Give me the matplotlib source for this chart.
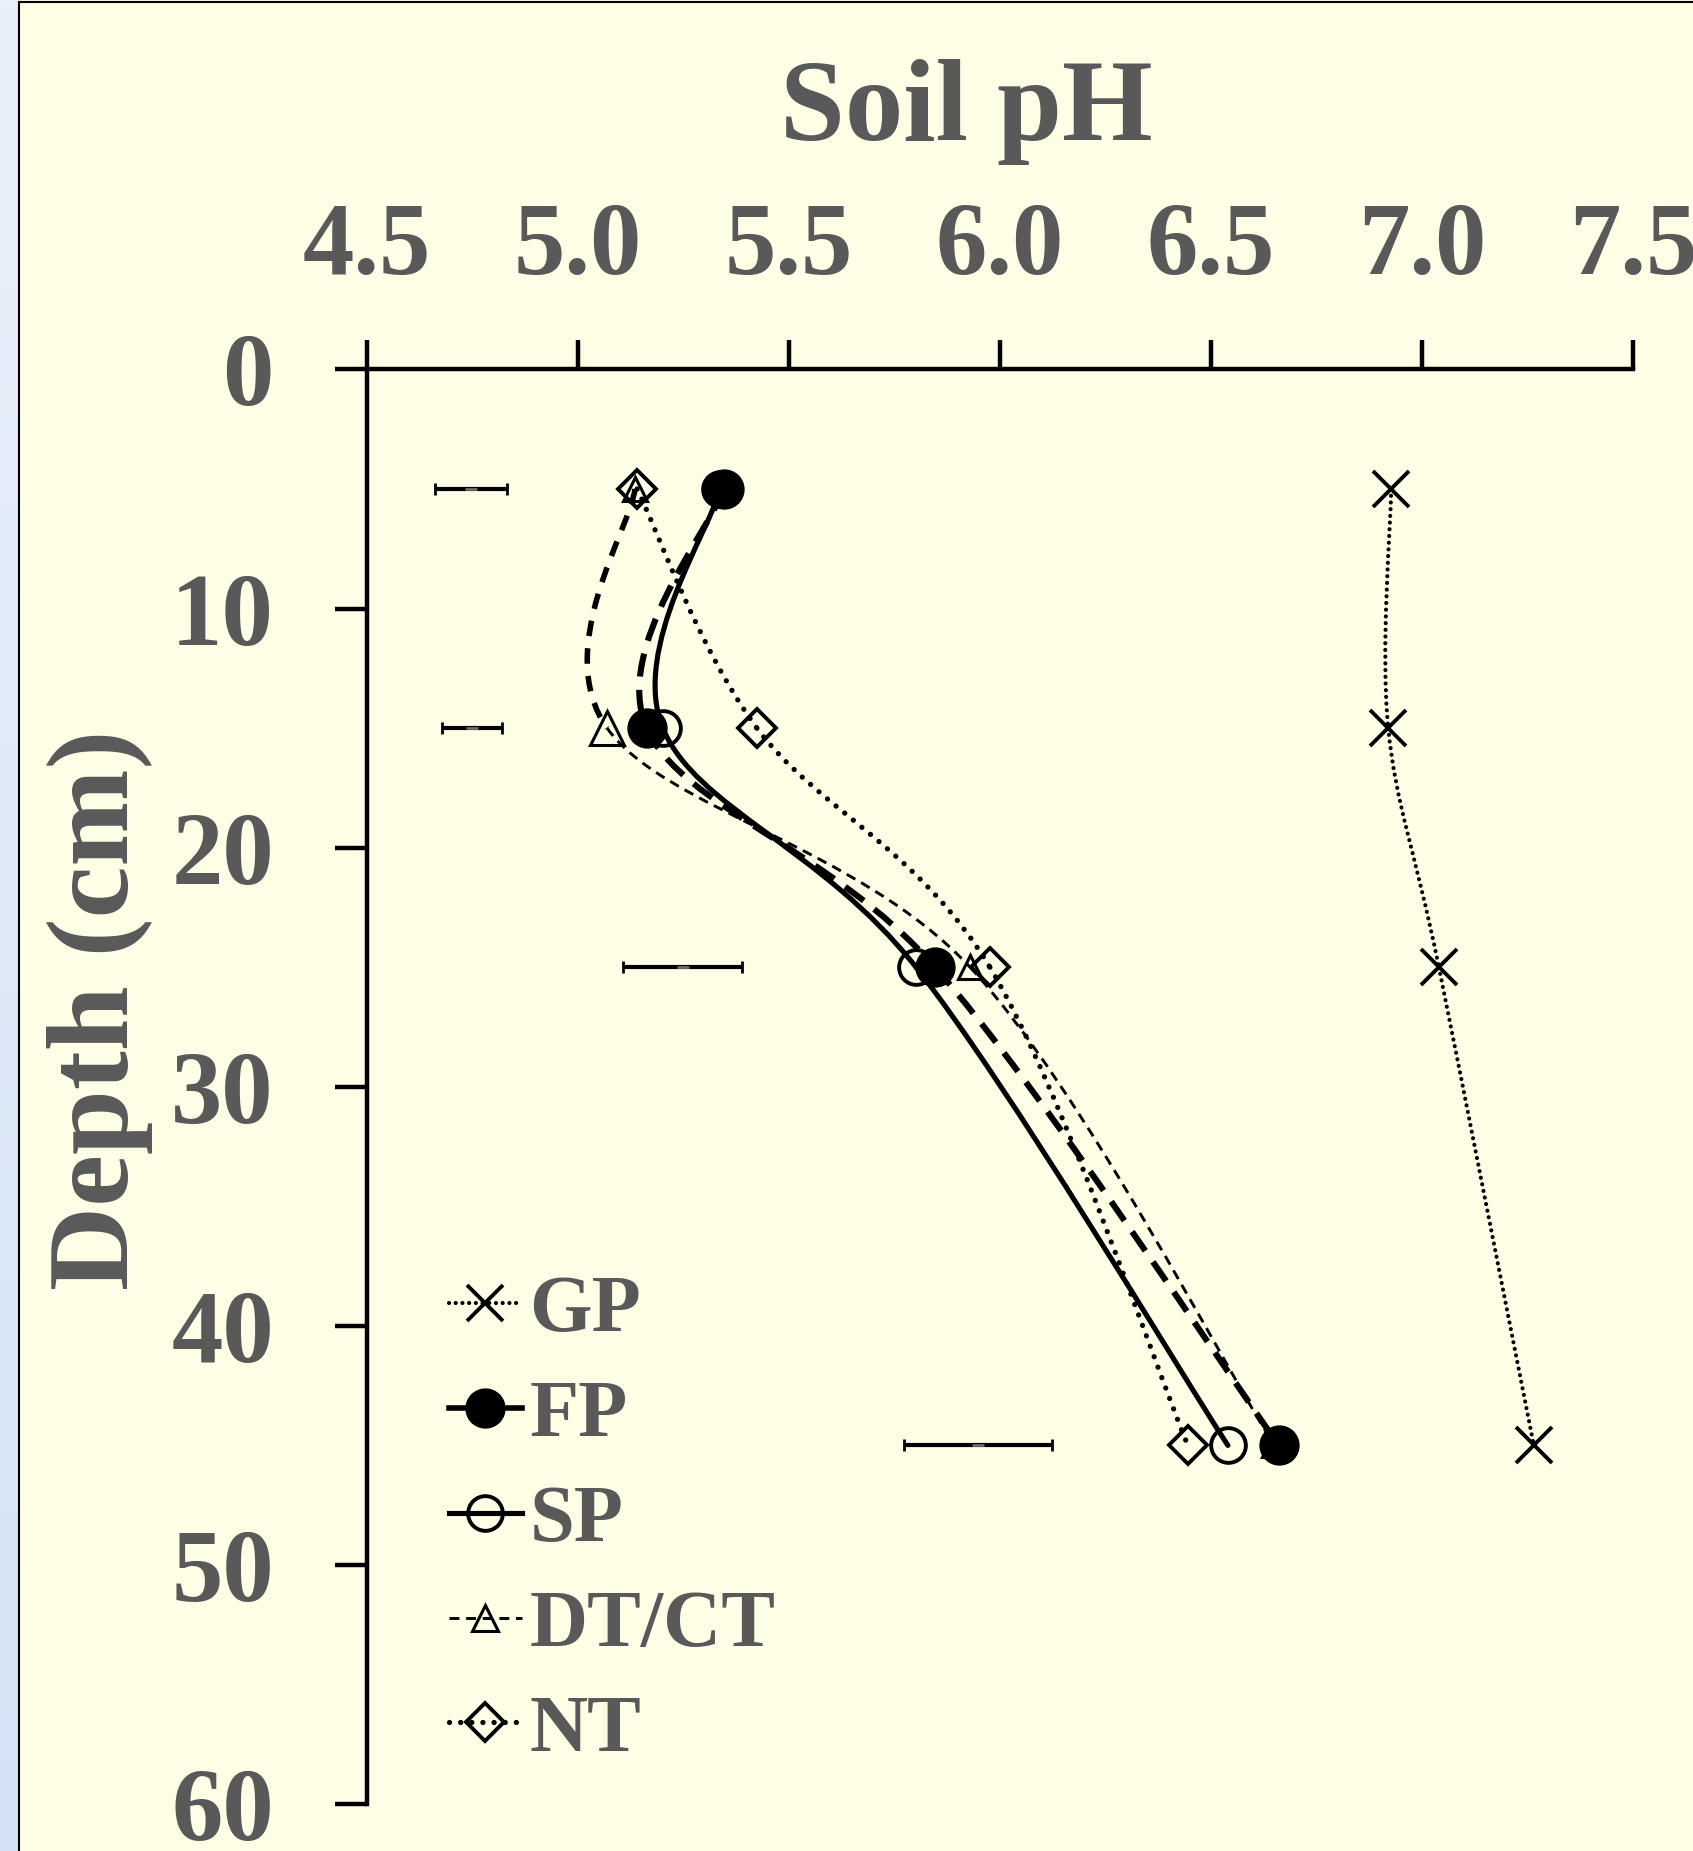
import numpy as np
import matplotlib

matplotlib.use("Agg")

import matplotlib.pyplot as plt
from matplotlib.path import Path
from matplotlib.patches import PathPatch
from matplotlib.lines import Line2D

plt.rcParams["font.family"] = ["Liberation Serif", "DejaVu Serif"]
plt.rcParams["font.weight"] = "bold"

# soil pH by depth (cm) for each treatment
DEPTH = [5, 15, 25, 45]
GP = [6.927, 6.920, 7.040, 7.265]
FP = [5.345, 5.163, 5.846, 6.661]
SP = [5.337, 5.201, 5.801, 6.540]
DTCT = [5.135, 5.069, 5.929, 6.650]
NT = [5.140, 5.424, 5.976, 6.445]

# LSD bars drawn at the left of each depth
LSD_CENTER = [4.746, 4.749, 5.248, 5.948]
LSD_HALF = [0.085, 0.071, 0.141, 0.175]

X_TICKS = [4.5, 5.0, 5.5, 6.0, 6.5, 7.0, 7.5]
Y_TICKS = [0, 10, 20, 30, 40, 50, 60]

TEXT = "#595959"
PANEL = "#FEFEE6"

W, H = 1693, 1851
fig = plt.figure(figsize=(W / 100, H / 100), dpi=100)
fig.patch.set_facecolor(PANEL)

# background: blue strip on the left + panel border
bg = fig.add_axes([0, 0, 1, 1], zorder=-10)
bg.set_xlim(0, W)
bg.set_ylim(H, 0)
bg.axis("off")
grad = np.linspace(0, 1, 256)[:, None]
blues = matplotlib.colors.LinearSegmentedColormap.from_list("strip", ["#E9F0FA", "#D3E3F5"])
bg.imshow(grad, cmap=blues, extent=[0, 18, H, 0], aspect="auto")
bg.plot([19, 19], [2, H], color="black", lw=1.5)
bg.plot([19, W], [2, 2], color="black", lw=1.5)

ax = fig.add_axes([367 / W, 1 - 1804 / H, 1266 / W, (1804 - 369.5) / H])
ax.patch.set_visible(False)
ax.set_xlim(4.5, 7.5)
ax.set_ylim(60, 0)
ax.xaxis.tick_top()
ax.set_xticks(X_TICKS)
ax.set_xticklabels([f"{v:.1f}" for v in X_TICKS])
ax.set_yticks(Y_TICKS)
for s in ("right", "bottom"):
    ax.spines[s].set_visible(False)
for s in ("top", "left"):
    ax.spines[s].set_linewidth(3.2)
ax.tick_params(axis="x", direction="out", length=21, width=3.2, pad=32,
               labelsize=74, labelcolor=TEXT)
ax.tick_params(axis="y", direction="out", length=23, width=3.2, pad=44,
               labelsize=74, labelcolor=TEXT)


def smooth_segments(xs, ys):
    # Catmull-Rom style bezier pieces, one per interval (like a smoothed scatter line)
    pts = np.column_stack([xs, ys]).astype(float)
    n = len(pts)
    segs = []
    for i in range(n - 1):
        p0 = pts[i - 1] if i > 0 else pts[i]
        p1, p2 = pts[i], pts[i + 1]
        p3 = pts[i + 2] if i + 2 < n else pts[i + 1]
        c1 = p1 + (p2 - p0) / 6
        c2 = p2 - (p3 - p1) / 6
        segs.append(Path([p1, c1, c2, p2],
                         [Path.MOVETO, Path.CURVE4, Path.CURVE4, Path.CURVE4]))
    return segs


def draw_line(xs, styles):
    for seg, st in zip(smooth_segments(xs, DEPTH), styles):
        lw, ls, cap = st
        ax.add_patch(PathPatch(seg, fill=False, edgecolor="black", lw=lw,
                               linestyle=ls, capstyle=cap, joinstyle="round", zorder=2))


GP_STYLE = (3.0, (0, (0.01, 1.6)), "round")
NT_STYLE = (3.8, (0, (0.01, 2.1)), "round")
FP_STYLE = (4.4, (0, (3.8, 2.2)), "butt")
SP_STYLE = (3.7, "solid", "round")
DT_STYLE = (2.1, (0, (3.4, 2.3)), "butt")
DT_THICK = (4.0, (0, (2.8, 2.2)), "butt")

draw_line(GP, [GP_STYLE] * 3)
draw_line(NT, [NT_STYLE] * 3)
draw_line(DTCT, [DT_THICK, DT_STYLE, DT_STYLE])
draw_line(SP, [SP_STYLE] * 3)
draw_line(FP, [FP_STYLE] * 3)

ax.plot(GP, DEPTH, ls="none", marker="x", ms=26, mew=2.8, mec="black", zorder=4)
ax.plot(NT, DEPTH, ls="none", marker="D", ms=19, mew=2.8, mec="black", mfc="none", zorder=4)
dt_sizes = [17, 25, 17, 17]
for xv, dv, ms in zip(DTCT, DEPTH, dt_sizes):
    ax.plot([xv], [dv], ls="none", marker="^", ms=ms, mew=2.2, mec="black", mfc="none", zorder=4)
ax.plot(SP, DEPTH, ls="none", marker="o", ms=25, mew=2.8, mec="black", mfc="none", zorder=4)
ax.plot(FP, DEPTH, ls="none", marker="o", ms=28, mew=1, mec="black", mfc="black", zorder=5)

ax.errorbar(LSD_CENTER, DEPTH, xerr=LSD_HALF, fmt="_", color="black", ecolor="black",
            elinewidth=3.0, capsize=4.5, capthick=3.4, ms=9, mew=2, mec="#6d6d6d", zorder=3)

handles = [
    Line2D([], [], color="black", lw=3.0, ls=(0, (0.01, 1.6)), dash_capstyle="round",
           marker="x", ms=26, mew=2.8, mec="black"),
    Line2D([], [], color="black", lw=4.0, ls="solid", marker="o", ms=28, mfc="black", mec="black"),
    Line2D([], [], color="black", lw=3.7, ls="solid", marker="o", ms=25, mew=2.8, mfc="none", mec="black"),
    Line2D([], [], color="black", lw=2.1, ls=(0, (3.4, 2.3)), marker="^", ms=19, mew=2.2,
           mfc="none", mec="black"),
    Line2D([], [], color="black", lw=3.8, ls=(0, (0.01, 2.1)), dash_capstyle="round",
           marker="D", ms=19, mew=2.8, mfc="none", mec="black"),
]
labels = ["GP", "FP", "SP", "DT/CT", "NT"]
leg = ax.legend(handles, labels, loc="upper left", bbox_to_anchor=(449 / W, 1 - 1275 / H),
                bbox_transform=fig.transFigure, frameon=False, fontsize=58, labelcolor=TEXT,
                borderpad=0, borderaxespad=0, handlelength=0.9, handletextpad=0.1,
                labelspacing=0.39, numpoints=1)

fig.text(966 / W, 1 - 140 / H, "Soil pH", ha="center", va="baseline",
         fontsize=84, color=TEXT)
fig.text(100 / W, 1 - 1010 / H, "Depth (cm)", ha="center", va="center", rotation=90,
         fontsize=84, color=TEXT)

fig.savefig("out.png", dpi=100, facecolor=fig.get_facecolor())
